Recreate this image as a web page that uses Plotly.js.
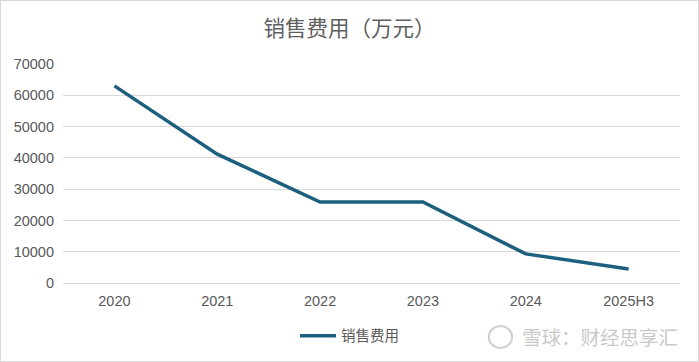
<!DOCTYPE html>
<html>
<head>
<meta charset="utf-8">
<script src="https://cdn.plot.ly/plotly-3.0.1.min.js"></script>
<style>
html,body{margin:0;padding:0;background:#fff;}
#wrap{width:699px;height:362px;box-sizing:border-box;border:1px solid #d9d9d9;overflow:hidden;}
#chart{width:697px;height:360px;}
</style>
</head>
<body>
<div id="wrap"><div id="chart"></div></div>
<script>
const categories = ["2020", "2021", "2022", "2023", "2024", "2025H3"];
const salesExpense = [63000, 41200, 25900, 25900, 9300, 4500];
const seriesName = "销售费用";
const chartTitle = "销售费用（万元）";
const yTicks = [0, 10000, 20000, 30000, 40000, 50000, 60000, 70000];
const watermark = "雪球：财经思享汇";

const fontFamily = "'Liberation Sans', Arial, 'Noto Sans CJK SC', sans-serif";

const trace = {
  x: categories,
  y: salesExpense,
  type: "scatter",
  mode: "lines",
  name: seriesName,
  line: {color: "#1d5f7e", width: 3.5},
  hoverinfo: "skip"
};

const layout = {
  width: 697,
  height: 360,
  margin: {l: 62, r: 18, t: 63, b: 78},
  paper_bgcolor: "#ffffff",
  plot_bgcolor: "#ffffff",
  font: {family: fontFamily, color: "#595959", size: 14.5},
  title: {
    text: chartTitle,
    font: {family: "'Noto Sans CJK SC', sans-serif", size: 21.5, color: "#5f5f5f"},
    xref: "container", x: 0.5, xanchor: "center",
    yref: "container", y: 0.925, yanchor: "middle"
  },
  xaxis: {
    type: "category",
    range: [-0.5, 5.5],
    showgrid: false,
    zeroline: false,
    showline: false,
    ticks: "",
    tickfont: {size: 14.5, color: "#595959"},
    ticklabelstandoff: 7
  },
  yaxis: {
    range: [0, 70000],
    tickvals: yTicks,
    ticktext: yTicks.map(String),
    showgrid: true,
    gridcolor: "#d9d9d9",
    gridwidth: 1,
    zeroline: true,
    zerolinecolor: "#d9d9d9",
    zerolinewidth: 1,
    showline: false,
    ticks: "",
    tickfont: {size: 14.5, color: "#595959"},
    ticklabelstandoff: 8
  },
  showlegend: true,
  legend: {
    orientation: "h",
    xref: "container", x: 0.5, xanchor: "center",
    yref: "container", y: 0.07, yanchor: "middle",
    font: {family: "'Noto Sans CJK SC', sans-serif", size: 14.5, color: "#595959"},
    itemwidth: 36,
    bgcolor: "rgba(0,0,0,0)"
  },
  shapes: [{
    type: "circle",
    xref: "paper", yref: "paper",
    x0: 0.690, x1: 0.728, y0: -0.297, y1: -0.196,
    line: {color: "#d0d0d0", width: 2}
  }],
  annotations: [{
    text: watermark,
    xref: "paper", yref: "paper",
    x: 1.0, xanchor: "right",
    y: -0.245, yanchor: "middle",
    showarrow: false,
    font: {family: "'Noto Sans CJK SC', sans-serif", size: 19.5, color: "#c9c9c9"}
  }]
};

Plotly.newPlot("chart", [trace], layout, {displayModeBar: false, staticPlot: true});
</script>
</body>
</html>
